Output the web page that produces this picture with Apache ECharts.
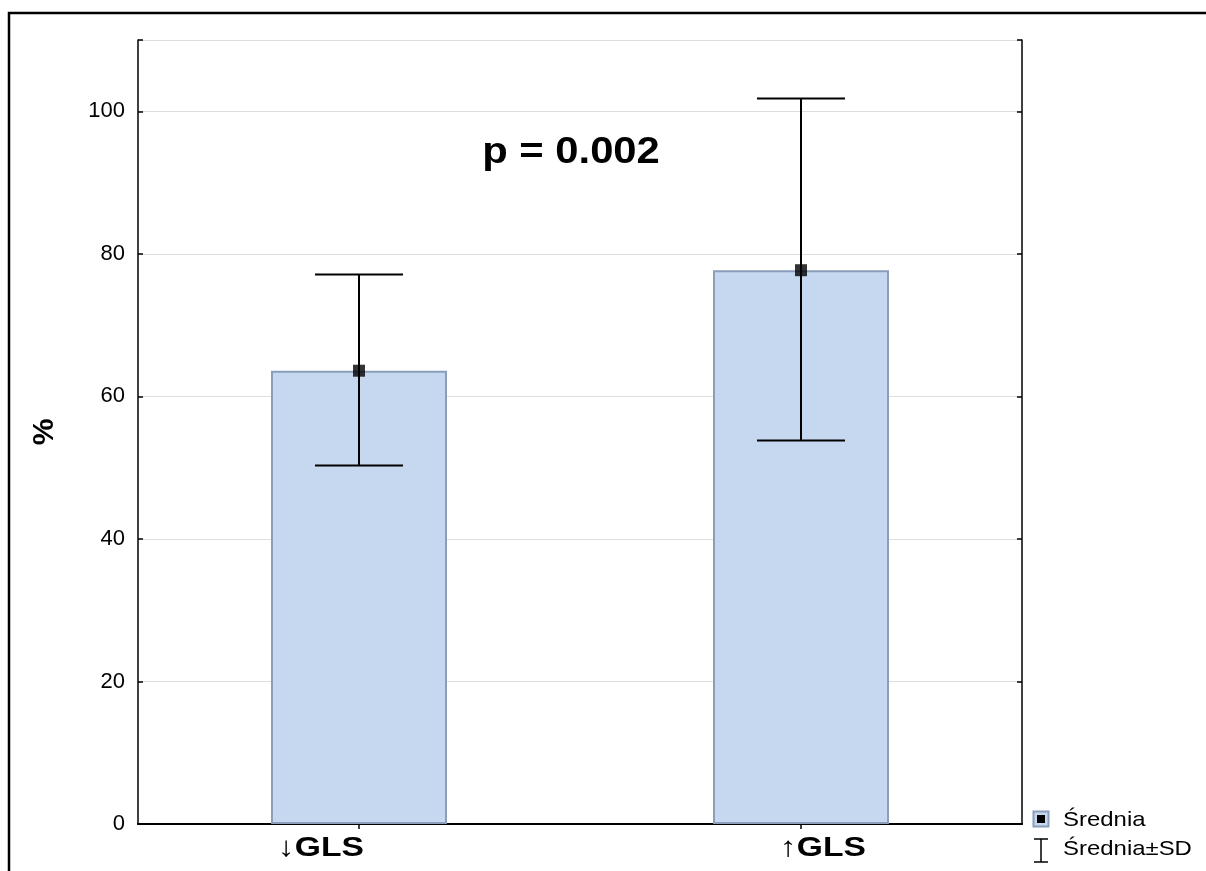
<!DOCTYPE html>
<html>
<head>
<meta charset="utf-8">
<script src="https://cdn.jsdelivr.net/npm/echarts@6/dist/echarts.min.js"></script>
<style>
  html, body { margin: 0; padding: 0; background: #fff; }
  #chart { width: 1206px; height: 871px; }
</style>
</head>
<body>
<div id="chart"></div>
<script>
// Group labels and summary statistics (mean, mean - SD, mean + SD)
const categories = ['↓GLS', '↑GLS'];
const means = [63.6, 77.7];
const lowerSD = [50.3, 53.8];
const upperSD = [77.1, 101.8];
const yTicks = [0, 20, 40, 60, 80, 100];

const chart = echarts.init(document.getElementById('chart'), null, { renderer: 'canvas' });

const font = 'Liberation Sans, Arial, Helvetica, sans-serif';

const errorData = categories.map((c, i) => [i, lowerSD[i], upperSD[i]]);
const meanPoints = categories.map((c, i) => [i, means[i]]);

// horizontal shift of each group label relative to its category centre
const labelShift = [-81, -21];

const option = {
  animation: false,
  backgroundColor: '#ffffff',
  grid: { left: 138, top: 40, right: 184, bottom: 47, containLabel: false },
  xAxis: [
    {
      type: 'category',
      data: categories,
      position: 'bottom',
      boundaryGap: true,
      axisLine: { show: true, lineStyle: { color: '#000', width: 2 } },
      axisTick: { show: true, inside: true, alignWithLabel: true, length: 5, lineStyle: { color: '#000', width: 1.5 } },
      axisLabel: { show: false },
      splitLine: { show: false }
    },
    {
      type: 'category',
      data: categories,
      position: 'top',
      boundaryGap: true,
      axisLine: { show: true, lineStyle: { color: '#000', width: 1.5 } },
      axisTick: { show: true, inside: true, alignWithLabel: true, length: 5, lineStyle: { color: '#000', width: 1.5 } },
      axisLabel: { show: false },
      splitLine: { show: false }
    }
  ],
  yAxis: [
    {
      type: 'value',
      min: 0,
      max: 110,
      interval: 20,
      position: 'left',
      name: '%',
      nameLocation: 'middle',
      nameRotate: 90,
      nameGap: 78,
      nameTextStyle: { fontSize: 30, fontWeight: 'bold', color: '#000', fontFamily: font },
      axisLine: { show: true, lineStyle: { color: '#000', width: 1.5 } },
      axisTick: { show: true, inside: true, length: 5, lineStyle: { color: '#000', width: 1.5 } },
      axisLabel: {
        margin: 13,
        fontSize: 22,
        color: '#000',
        fontFamily: font,
        formatter: function (v) { return yTicks.indexOf(v) >= 0 ? String(v) : ''; }
      },
      splitLine: { show: true, lineStyle: { color: '#dedede', width: 1 } }
    },
    {
      type: 'value',
      min: 0,
      max: 110,
      interval: 20,
      position: 'right',
      axisLine: { show: true, lineStyle: { color: '#000', width: 1.5 } },
      axisTick: { show: true, inside: true, length: 5, lineStyle: { color: '#000', width: 1.5 } },
      axisLabel: { show: false },
      splitLine: { show: false }
    }
  ],
  series: [
    {
      name: 'Średnia',
      type: 'bar',
      xAxisIndex: 0,
      yAxisIndex: 0,
      data: means,
      barWidth: 176,
      itemStyle: { color: '#c6d8ef', borderColor: '#8a9dba', borderWidth: 2 },
      z: 2
    },
    {
      name: 'Średnia±SD',
      type: 'custom',
      xAxisIndex: 0,
      yAxisIndex: 0,
      data: errorData,
      z: 3,
      renderItem: function (params, api) {
        const x = api.value(0);
        const lo = api.coord([x, api.value(1)]);
        const hi = api.coord([x, api.value(2)]);
        const half = 44;
        const style = { stroke: '#000', lineWidth: 2 };
        return {
          type: 'group',
          children: [
            { type: 'line', shape: { x1: lo[0], y1: lo[1], x2: hi[0], y2: hi[1] }, style: style },
            { type: 'line', shape: { x1: hi[0] - half, y1: hi[1], x2: hi[0] + half, y2: hi[1] }, style: style },
            { type: 'line', shape: { x1: lo[0] - half, y1: lo[1], x2: lo[0] + half, y2: lo[1] }, style: style }
          ]
        };
      }
    },
    {
      name: 'mean',
      type: 'scatter',
      xAxisIndex: 0,
      yAxisIndex: 0,
      data: meanPoints,
      symbol: 'rect',
      symbolSize: 12,
      itemStyle: { color: '#000' },
      z: 4
    }
  ],
  graphic: [
    // outer frame
    {
      type: 'rect',
      shape: { x: 9, y: 13, width: 1200, height: 900 },
      style: { fill: 'none', stroke: '#000', lineWidth: 2.5 },
      silent: true
    },
    {
      type: 'text',
      x: 571,
      y: 153,
      scaleX: 1.16,
      style: {
        text: 'p = 0.002',
        font: 'bold 36px ' + font,
        fill: '#000',
        textAlign: 'center',
        textVerticalAlign: 'middle'
      }
    },
    // legend: mean
    {
      type: 'rect',
      shape: { x: 1033.5, y: 811.5, width: 15, height: 15 },
      style: { fill: '#c6d8ef', stroke: '#8a9dba', lineWidth: 2 }
    },
    {
      type: 'rect',
      shape: { x: 1037, y: 815, width: 8, height: 8 },
      style: { fill: '#000' }
    },
    {
      type: 'text',
      x: 1063,
      y: 820,
      scaleX: 1.14,
      style: { text: 'Średnia', font: '21px ' + font, fill: '#000', textVerticalAlign: 'middle' }
    },
    // legend: mean ± SD
    {
      type: 'polyline',
      shape: { points: [[1034, 839], [1048, 839]] },
      style: { stroke: '#000', lineWidth: 1.5 }
    },
    {
      type: 'polyline',
      shape: { points: [[1041, 839], [1041, 862]] },
      style: { stroke: '#000', lineWidth: 1.5 }
    },
    {
      type: 'polyline',
      shape: { points: [[1034, 862], [1048, 862]] },
      style: { stroke: '#000', lineWidth: 1.5 }
    },
    {
      type: 'text',
      x: 1063,
      y: 849,
      scaleX: 1.14,
      style: { text: 'Średnia±SD', font: '21px ' + font, fill: '#000', textVerticalAlign: 'middle' }
    }
  ]
};

chart.setOption(option);

// Group labels below the axis, placed from the category scale
const labelGraphics = categories.map(function (c, i) {
  const px = chart.convertToPixel({ xAxisIndex: 0 }, c);
  const baseY = chart.convertToPixel({ yAxisIndex: 0 }, 0);
  return {
    type: 'text',
    id: 'cat' + i,
    x: px + labelShift[i],
    y: baseY + 24,
    scaleX: 1.2,
    style: {
      text: c,
      font: 'bold 28px ' + font,
      fill: '#000',
      textAlign: 'left',
      textVerticalAlign: 'middle'
    }
  };
});
chart.setOption({ graphic: labelGraphics });
</script>
</body>
</html>
